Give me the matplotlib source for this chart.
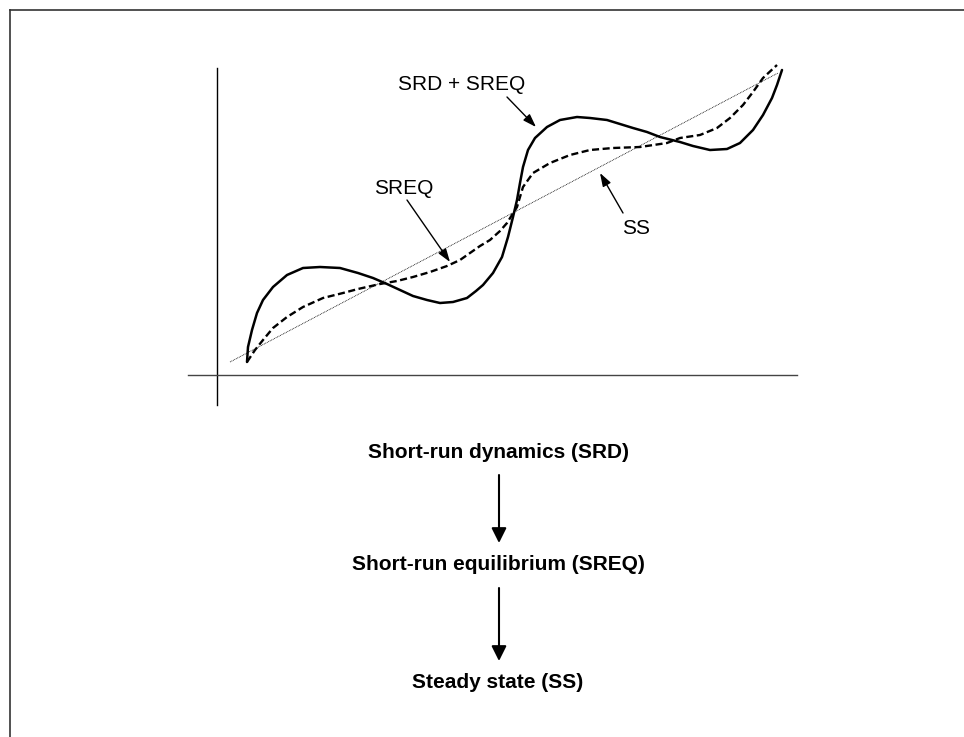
import numpy as np
import matplotlib.pyplot as plt

plt.rcParams['font.family'] = ['Liberation Sans', 'DejaVu Sans']

# curve points (pixel-like units, y down)
srd_x = [247, 248, 252, 257, 263, 273, 287, 303, 320, 340, 358, 373, 387, 400, 413, 427, 440, 453,
         467, 476, 483, 493, 502, 508, 513, 517, 520, 523, 528, 535, 547, 560, 577, 590, 607, 620,
         633, 647, 660, 680, 693, 710, 727, 740, 753, 763, 772, 777, 782]
srd_y = [362, 347, 330, 313, 300, 287, 275, 268, 267, 268, 273, 278, 284, 290, 296, 300, 303, 302,
         298, 291, 285, 273, 257, 237, 217, 200, 183, 167, 150, 138, 127, 120, 117, 118, 120, 124,
         128, 132, 137, 142, 146, 150, 149, 143, 130, 115, 98, 85, 70]

sreq_x = [247, 255, 263, 273, 287, 303, 323, 343, 358, 380, 397, 413, 430, 447, 460, 470, 480, 490,
          500, 507, 517, 523, 533, 550, 570, 590, 613, 640, 667, 680, 700, 717, 730, 743, 753, 763,
          777]
sreq_y = [362, 350, 340, 328, 317, 307, 298, 293, 289, 284, 281, 277, 272, 266, 260, 253, 246, 240,
          231, 223, 207, 187, 173, 163, 155, 150, 148, 147, 143, 138, 135, 128, 118, 105, 92, 78,
          65]

ss_x = [230, 778]
ss_y = [362, 73]

labels = ["SRD + SREQ", "SREQ", "SS"]
label_pos = [(462, 84), (404, 188), (636, 228)]
arrow_tail = [(507, 97), (407, 200), (623, 213)]
arrow_head = [(536, 127), (450, 262), (600, 173)]

steps = ["Short-run dynamics (SRD)", "Short-run equilibrium (SREQ)", "Steady state (SS)"]
step_y = [452, 565, 683]
step_x = 498

fig = plt.figure(figsize=(9.64, 7.37), dpi=100)
ax = fig.add_axes([0, 0, 1, 1])
ax.set_xlim(0, 964)
ax.set_ylim(737, 0)
ax.axis('off')

# outer frame (top and left edges visible)
ax.plot([9.5, 964], [9.5, 9.5], color='#333333', lw=1.2)
ax.plot([9.5, 9.5], [9.5, 737], color='#333333', lw=1.2)

# axes of the sketch
ax.plot([217, 217], [68, 405], color='black', lw=1.0)
ax.plot([188, 797], [375, 375], color='#444444', lw=1.0)

ax.plot(ss_x, ss_y, color='black', lw=0.6, linestyle=(0, (1, 1)))
ax.plot(sreq_x, sreq_y, color='black', lw=1.7, linestyle=(0, (3, 1.5)), solid_joinstyle='round')
ax.plot(srd_x, srd_y, color='black', lw=1.8, solid_capstyle='round', solid_joinstyle='round')

for lab, pos, tail, head in zip(labels, label_pos, arrow_tail, arrow_head):
    ax.text(pos[0], pos[1], lab, fontsize=15, ha='center', va='center')
    ax.annotate('', xy=head, xytext=tail,
                arrowprops=dict(arrowstyle='-|>,head_length=0.8,head_width=0.27',
                                color='black', lw=1.0, shrinkA=0, shrinkB=0))

for s, y in zip(steps, step_y):
    ax.text(step_x, y, s, fontsize=15, fontweight='bold', ha='center', va='center')

for y0, y1 in zip(step_y[:-1], step_y[1:]):
    ax.annotate('', xy=(step_x + 1, y1 - 22), xytext=(step_x + 1, y0 + 23),
                arrowprops=dict(arrowstyle='-|>,head_length=0.9,head_width=0.45',
                                color='black', lw=1.5, shrinkA=0, shrinkB=0))

fig.savefig('out.png', dpi=100)
